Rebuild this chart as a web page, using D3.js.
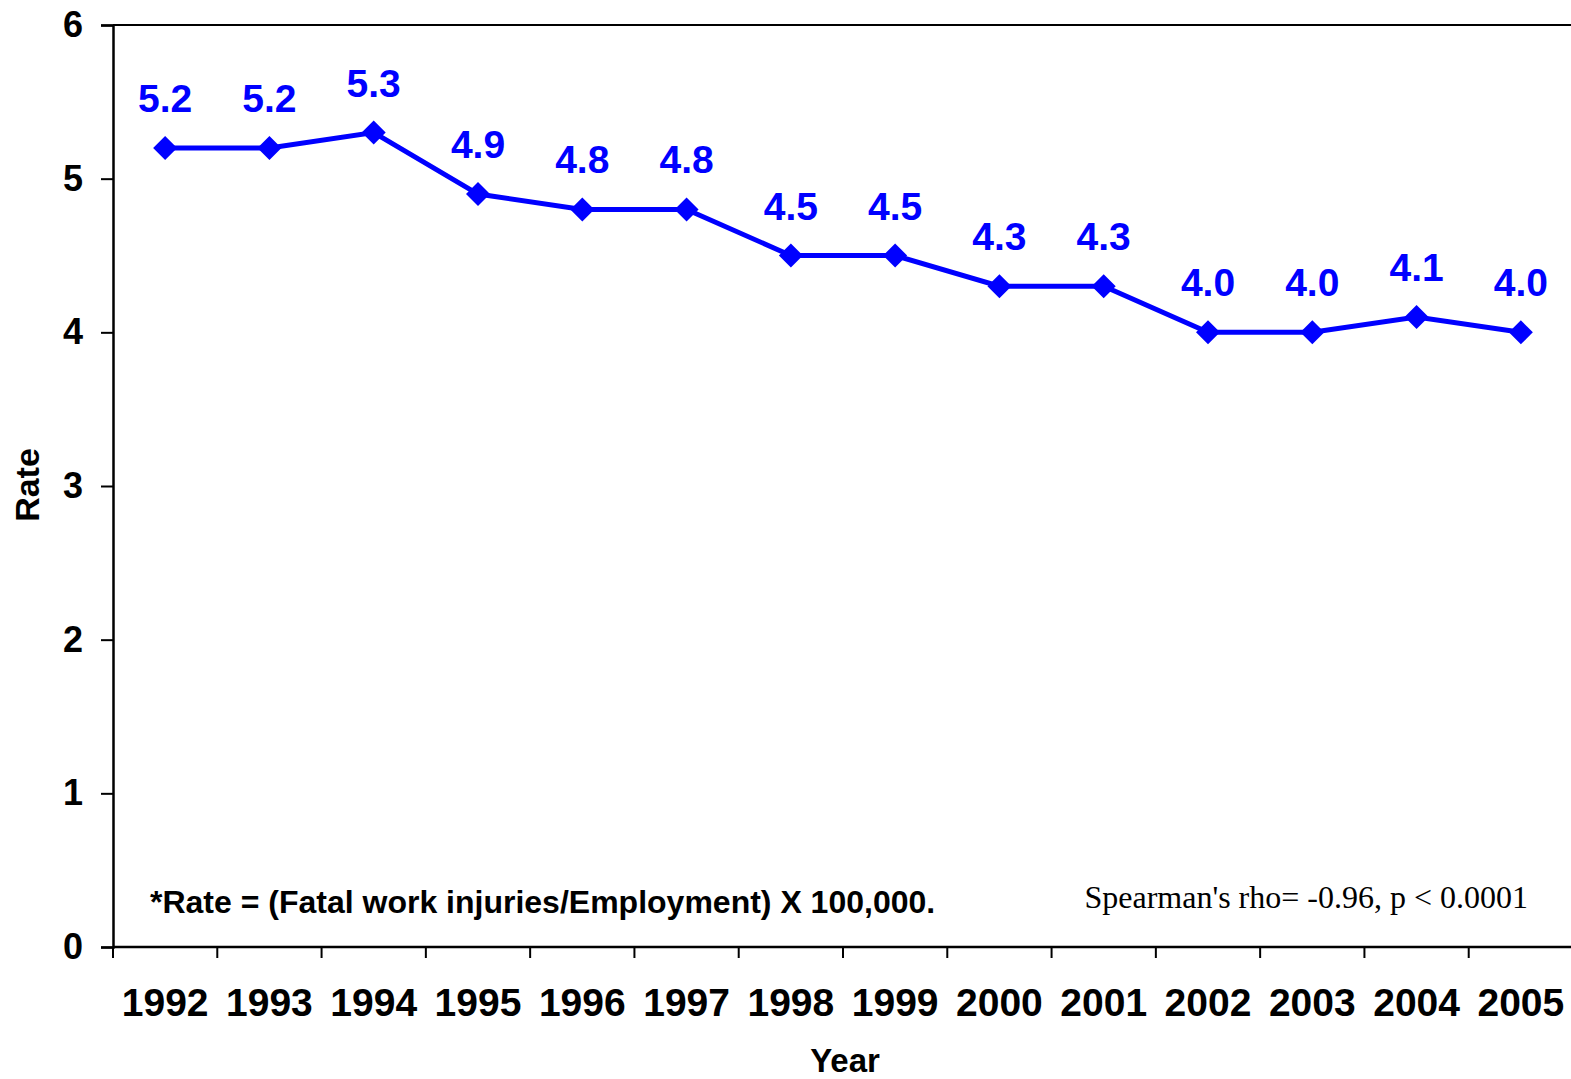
<!DOCTYPE html>
<html>
<head>
<meta charset="utf-8">
<script src="https://cdn.jsdelivr.net/npm/d3@7"></script>
<style>
    body { margin: 0; background: #fff; }
    svg text { font-family: "Liberation Sans", Arial, sans-serif; }
</style>
</head>
<body>
<div id="chart"></div>
<script>
// chart data
var years = ["1992", "1993", "1994", "1995", "1996", "1997", "1998",
             "1999", "2000", "2001", "2002", "2003", "2004", "2005"];
var rates = [5.2, 5.2, 5.3, 4.9, 4.8, 4.8, 4.5, 4.5, 4.3, 4.3, 4.0, 4.0, 4.1, 4.0];
var yTicks = [0, 1, 2, 3, 4, 5, 6];

function init() {
    var w = 1571;
    var h = 1079;

    var svg = d3.select("#chart")
        .append("svg")
        .attr("width", w)
        .attr("height", h);

    // scales
    var x = d3.scaleBand()
        .domain(years)
        .range([113, 1573]);

    var y = d3.scaleLinear()
        .domain([0, 6])
        .range([947, 25]);

    // top line at 6
    svg.append("line")
        .attr("x1", 113)
        .attr("x2", w)
        .attr("y1", y(6))
        .attr("y2", y(6))
        .attr("stroke", "#000")
        .attr("stroke-width", 2);

    // y axis
    var yAxis = svg.append("g")
        .attr("transform", "translate(113,0)")
        .call(d3.axisLeft(y).tickValues(yTicks).tickFormat(d3.format("d")).tickSize(12).tickPadding(18));
    yAxis.select(".domain").attr("stroke-width", 2.5);
    yAxis.selectAll(".tick line").attr("stroke-width", 2);
    yAxis.selectAll("text")
        .attr("font-size", 36)
        .attr("font-weight", "bold")
        .attr("fill", "#000")
        .attr("font-family", "Liberation Sans, Arial, sans-serif");

    // x axis, ticks at band edges
    var xAxis = svg.append("g")
        .attr("transform", "translate(0," + y(0) + ")");
    xAxis.append("line")
        .attr("x1", 113)
        .attr("x2", w)
        .attr("stroke", "#000")
        .attr("stroke-width", 2.5);
    xAxis.selectAll(".xtick")
        .data(years)
        .enter()
        .append("line")
        .attr("class", "xtick")
        .attr("x1", d => x(d))
        .attr("x2", d => x(d))
        .attr("y1", 0)
        .attr("y2", 11)
        .attr("stroke", "#000")
        .attr("stroke-width", 2);
    xAxis.selectAll(".xlabel")
        .data(years)
        .enter()
        .append("text")
        .attr("class", "xlabel")
        .attr("x", d => x(d) + x.bandwidth() / 2)
        .attr("y", 69)
        .attr("text-anchor", "middle")
        .attr("font-size", 39)
        .attr("font-weight", "bold")
        .text(d => d);

    // axis titles
    svg.append("text")
        .attr("x", 845)
        .attr("y", 1072)
        .attr("text-anchor", "middle")
        .attr("font-size", 33)
        .attr("font-weight", "bold")
        .text("Year");

    svg.append("text")
        .attr("transform", "translate(39,485) rotate(-90)")
        .attr("text-anchor", "middle")
        .attr("font-size", 34)
        .attr("font-weight", "bold")
        .text("Rate");

    // line
    var line = d3.line()
        .x((d, i) => x(years[i]) + x.bandwidth() / 2)
        .y(d => y(d));

    svg.append("path")
        .datum(rates)
        .attr("d", line)
        .attr("fill", "none")
        .attr("stroke", "#0000ff")
        .attr("stroke-width", 5);

    // diamond markers
    svg.selectAll(".marker")
        .data(rates)
        .enter()
        .append("path")
        .attr("class", "marker")
        .attr("d", "M0,-12L12,0L0,12L-12,0Z")
        .attr("transform", (d, i) => "translate(" + (x(years[i]) + x.bandwidth() / 2) + "," + y(d) + ")")
        .attr("fill", "#0000ff");

    // value labels
    svg.selectAll(".vlabel")
        .data(rates)
        .enter()
        .append("text")
        .attr("class", "vlabel")
        .attr("x", (d, i) => x(years[i]) + x.bandwidth() / 2)
        .attr("y", d => y(d) - 36)
        .attr("text-anchor", "middle")
        .attr("font-size", 39)
        .attr("font-weight", "bold")
        .attr("fill", "#0000ff")
        .text(d => d3.format(".1f")(d));

    // notes
    svg.append("text")
        .attr("x", 150)
        .attr("y", 913)
        .attr("font-size", 32)
        .attr("font-weight", "bold")
        .text("*Rate = (Fatal work injuries/Employment) X 100,000.");

    svg.append("text")
        .attr("x", 1528)
        .attr("y", 908)
        .attr("text-anchor", "end")
        .attr("font-size", 32)
        .style("font-family", "'Liberation Serif', 'Times New Roman', serif")
        .text("Spearman's rho= -0.96, p < 0.0001");
}

window.onload = init;
</script>
</body>
</html>
